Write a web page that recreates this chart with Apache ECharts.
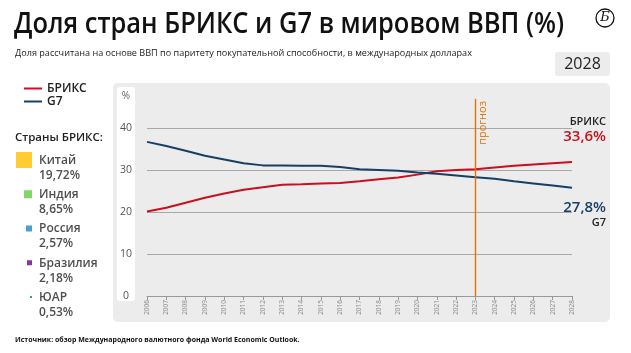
<!DOCTYPE html>
<html>
<head>
<meta charset="utf-8">
<script src="https://cdn.jsdelivr.net/npm/echarts@6/dist/echarts.min.js"></script>
<style>
  html, body { margin: 0; padding: 0; background: #fff; }
  #chart { width: 631px; height: 353px; }
</style>
</head>
<body>
<div id="chart"></div>
<script>
// data
const years = ['2006', '2007', '2008', '2009', '2010', '2011', '2012', '2013', '2014', '2015', '2016', '2017',
  '2018', '2019', '2020', '2021', '2022', '2023', '2024', '2025', '2026', '2027', '2028'];
const brics = [20.1, 21.0, 22.2, 23.4, 24.4, 25.3, 25.9, 26.5, 26.6, 26.8, 26.9, 27.3,
  27.8, 28.2, 28.9, 29.7, 30.0, 30.2, 30.6, 31.0, 31.3, 31.6, 31.9];
const g7 = [36.7, 35.7, 34.6, 33.4, 32.5, 31.6, 31.1, 31.1, 31.0, 31.0, 30.7, 30.2,
  30.0, 29.8, 29.4, 29.1, 28.7, 28.3, 27.9, 27.3, 26.8, 26.3, 25.8];
const forecastYear = '2023';
const endShares = [33.6, 27.8]; // БРИКС, G7 in 2028
const countries = ['Китай', 'Индия', 'Россия', 'Бразилия', 'ЮАР'];
const countryShares = [19.72, 8.65, 2.57, 2.18, 0.53];

// styles
const FONT = '"Open Sans", "Noto Sans", sans-serif';
const RED = '#c8101e';
const BLUE = '#163f63';
const ORANGE = '#e57200';
const countryColors = ['#ffc000', '#66cc44', '#1e88c8', '#660099', '#1a7a8a'];
const squareSizes = [16, 8, 6, 5, 2];

const fmt = v => v.toFixed(2).replace('.', ',') + '%';
const fmt1 = v => v.toFixed(1).replace('.', ',') + '%';

const chart = echarts.init(document.getElementById('chart'));

const option = {
    animation: false,
    textStyle: {fontFamily: FONT},
    graphic: [
        {type: 'rect', z: -10, shape: {x: 113, y: 83, width: 497, height: 239, r: 5}, style: {fill: '#ececec'}},
        {type: 'rect', z: -9, shape: {x: 117, y: 87, width: 18, height: 214, r: 3}, style: {fill: '#fff'}},
        {type: 'text', x: 14, y: 25, scaleX: 0.91, style: {text: 'Доля стран БРИКС и G7 в мировом ВВП (%)', font: '600 28px ' + FONT, fill: '#111', textVerticalAlign: 'middle'}},
        {type: 'text', x: 15, y: 53, style: {text: 'Доля рассчитана на основе ВВП по паритету покупательной способности, в международных долларах', font: '9.1px ' + FONT, fill: '#222', textVerticalAlign: 'middle'}},
        {type: 'circle', shape: {cx: 605, cy: 18, r: 9}, style: {fill: 'none', stroke: '#111', lineWidth: 1.3}},
        {type: 'text', x: 605, y: 18, style: {text: 'Б', font: 'italic 13px "DejaVu Serif", serif', fill: '#111', textAlign: 'center', textVerticalAlign: 'middle'}},
        {type: 'rect', shape: {x: 555, y: 52, width: 55, height: 24, r: 3}, style: {fill: '#ececec'}},
        {type: 'text', x: 582.5, y: 64, style: {text: years[years.length - 1], font: '16px ' + FONT, fill: '#222', textAlign: 'center', textVerticalAlign: 'middle'}},
        {type: 'text', x: 15, y: 138, style: {text: 'Страны БРИКС:', font: '600 11.5px ' + FONT, fill: '#222', textVerticalAlign: 'middle'}},
        {type: 'text', x: 126, y: 96, style: {text: '%', font: '10px ' + FONT, fill: '#666', textAlign: 'center', textVerticalAlign: 'middle'}},
        {type: 'text', x: 606, y: 122, style: {text: 'БРИКС', font: '600 11px ' + FONT, fill: '#222', textAlign: 'right', textVerticalAlign: 'middle'}},
        {type: 'text', x: 606, y: 137, style: {text: fmt1(endShares[0]), font: '600 15px ' + FONT, fill: RED, textAlign: 'right', textVerticalAlign: 'middle'}},
        {type: 'text', x: 606, y: 208, style: {text: fmt1(endShares[1]), font: '600 15px ' + FONT, fill: BLUE, textAlign: 'right', textVerticalAlign: 'middle'}},
        {type: 'text', x: 606, y: 223, style: {text: 'G7', font: '600 11px ' + FONT, fill: '#222', textAlign: 'right', textVerticalAlign: 'middle'}},
        {type: 'text', x: 15, y: 340, style: {text: 'Источник: обзор Международного валютного фонда World Economic Outlook.', font: '700 7px ' + FONT, fill: '#111', textVerticalAlign: 'middle'}}
    ],
    legend: {
        orient: 'vertical',
        left: 24,
        top: 82,
        padding: 0,
        itemWidth: 18,
        itemHeight: 2,
        itemGap: 0,
        icon: 'rect',
        data: ['БРИКС', 'G7'],
        textStyle: {fontFamily: FONT, fontSize: 12, fontWeight: 600, color: '#222', lineHeight: 13}
    },
    grid: [
        {left: 147, right: 59, top: 128, bottom: 57},
        {left: 147, right: 59, top: 99, bottom: 57},
        {left: 0, width: 100, top: 168, bottom: 48}
    ],
    xAxis: [
        {
            type: 'category', gridIndex: 0, data: years, boundaryGap: false,
            axisLine: {lineStyle: {color: '#999'}},
            axisTick: {length: 4, lineStyle: {color: '#999'}},
            axisLabel: {rotate: 90, fontSize: 6.5, color: '#888', margin: 4}
        },
        {type: 'category', gridIndex: 1, data: years, boundaryGap: false, show: false},
        {type: 'value', gridIndex: 2, min: 0, max: 100, show: false}
    ],
    yAxis: [
        {
            type: 'value', gridIndex: 0, min: 0, max: 40, interval: 10,
            axisLine: {show: false}, axisTick: {show: false},
            splitLine: {lineStyle: {color: '#a8a8a8'}},
            axisLabel: {fontSize: 10.5, color: '#555', align: 'center', margin: 21}
        },
        {type: 'value', gridIndex: 1, min: 0, max: 1, show: false},
        {type: 'category', gridIndex: 2, data: countries, inverse: true, boundaryGap: false, show: false}
    ],
    series: [
        {
            name: 'БРИКС', type: 'line', xAxisIndex: 0, yAxisIndex: 0, data: brics,
            symbol: 'none', lineStyle: {color: RED, width: 2}, itemStyle: {color: RED}, z: 3
        },
        {
            name: 'G7', type: 'line', xAxisIndex: 0, yAxisIndex: 0, data: g7,
            symbol: 'none', lineStyle: {color: BLUE, width: 2}, itemStyle: {color: BLUE}, z: 3
        },
        {
            name: 'прогноз', type: 'line', xAxisIndex: 1, yAxisIndex: 1, data: [], symbol: 'none',
            itemStyle: {color: ORANGE}, lineStyle: {color: ORANGE}, z: 4,
            markLine: {
                silent: true, symbol: ['none', 'none'],
                lineStyle: {color: ORANGE, type: 'solid', width: 1.4, opacity: 1},
                label: {show: true, formatter: 'прогноз', position: 'insideEndBottom', color: ORANGE, fontSize: 11, distance: 2},
                emphasis: {disabled: true},
                data: [{xAxis: forecastYear, lineStyle: {color: ORANGE, type: 'solid', width: 1.4}}]
            }
        },
        {
            name: 'squares', type: 'scatter', xAxisIndex: 2, yAxisIndex: 2, symbol: 'rect',
            data: countries.map((c, i) => ({
                value: [32, c],
                symbolSize: squareSizes[i],
                symbolOffset: [-squareSizes[i] / 2, -8],
                itemStyle: {color: countryColors[i]}
            })),
            silent: true
        },
        {
            name: 'shares', type: 'scatter', xAxisIndex: 2, yAxisIndex: 2, symbolSize: 0,
            data: countries.map(c => ({value: [39, c]})),
            label: {
                show: true, position: 'right', distance: 0,
                formatter: p => p.name + '\n' + fmt(countryShares[p.dataIndex]),
                fontFamily: FONT, fontSize: 12, fontWeight: 600, color: '#222', lineHeight: 15
            },
            silent: true
        }
    ]
};

chart.setOption(option);
</script>
</body>
</html>
